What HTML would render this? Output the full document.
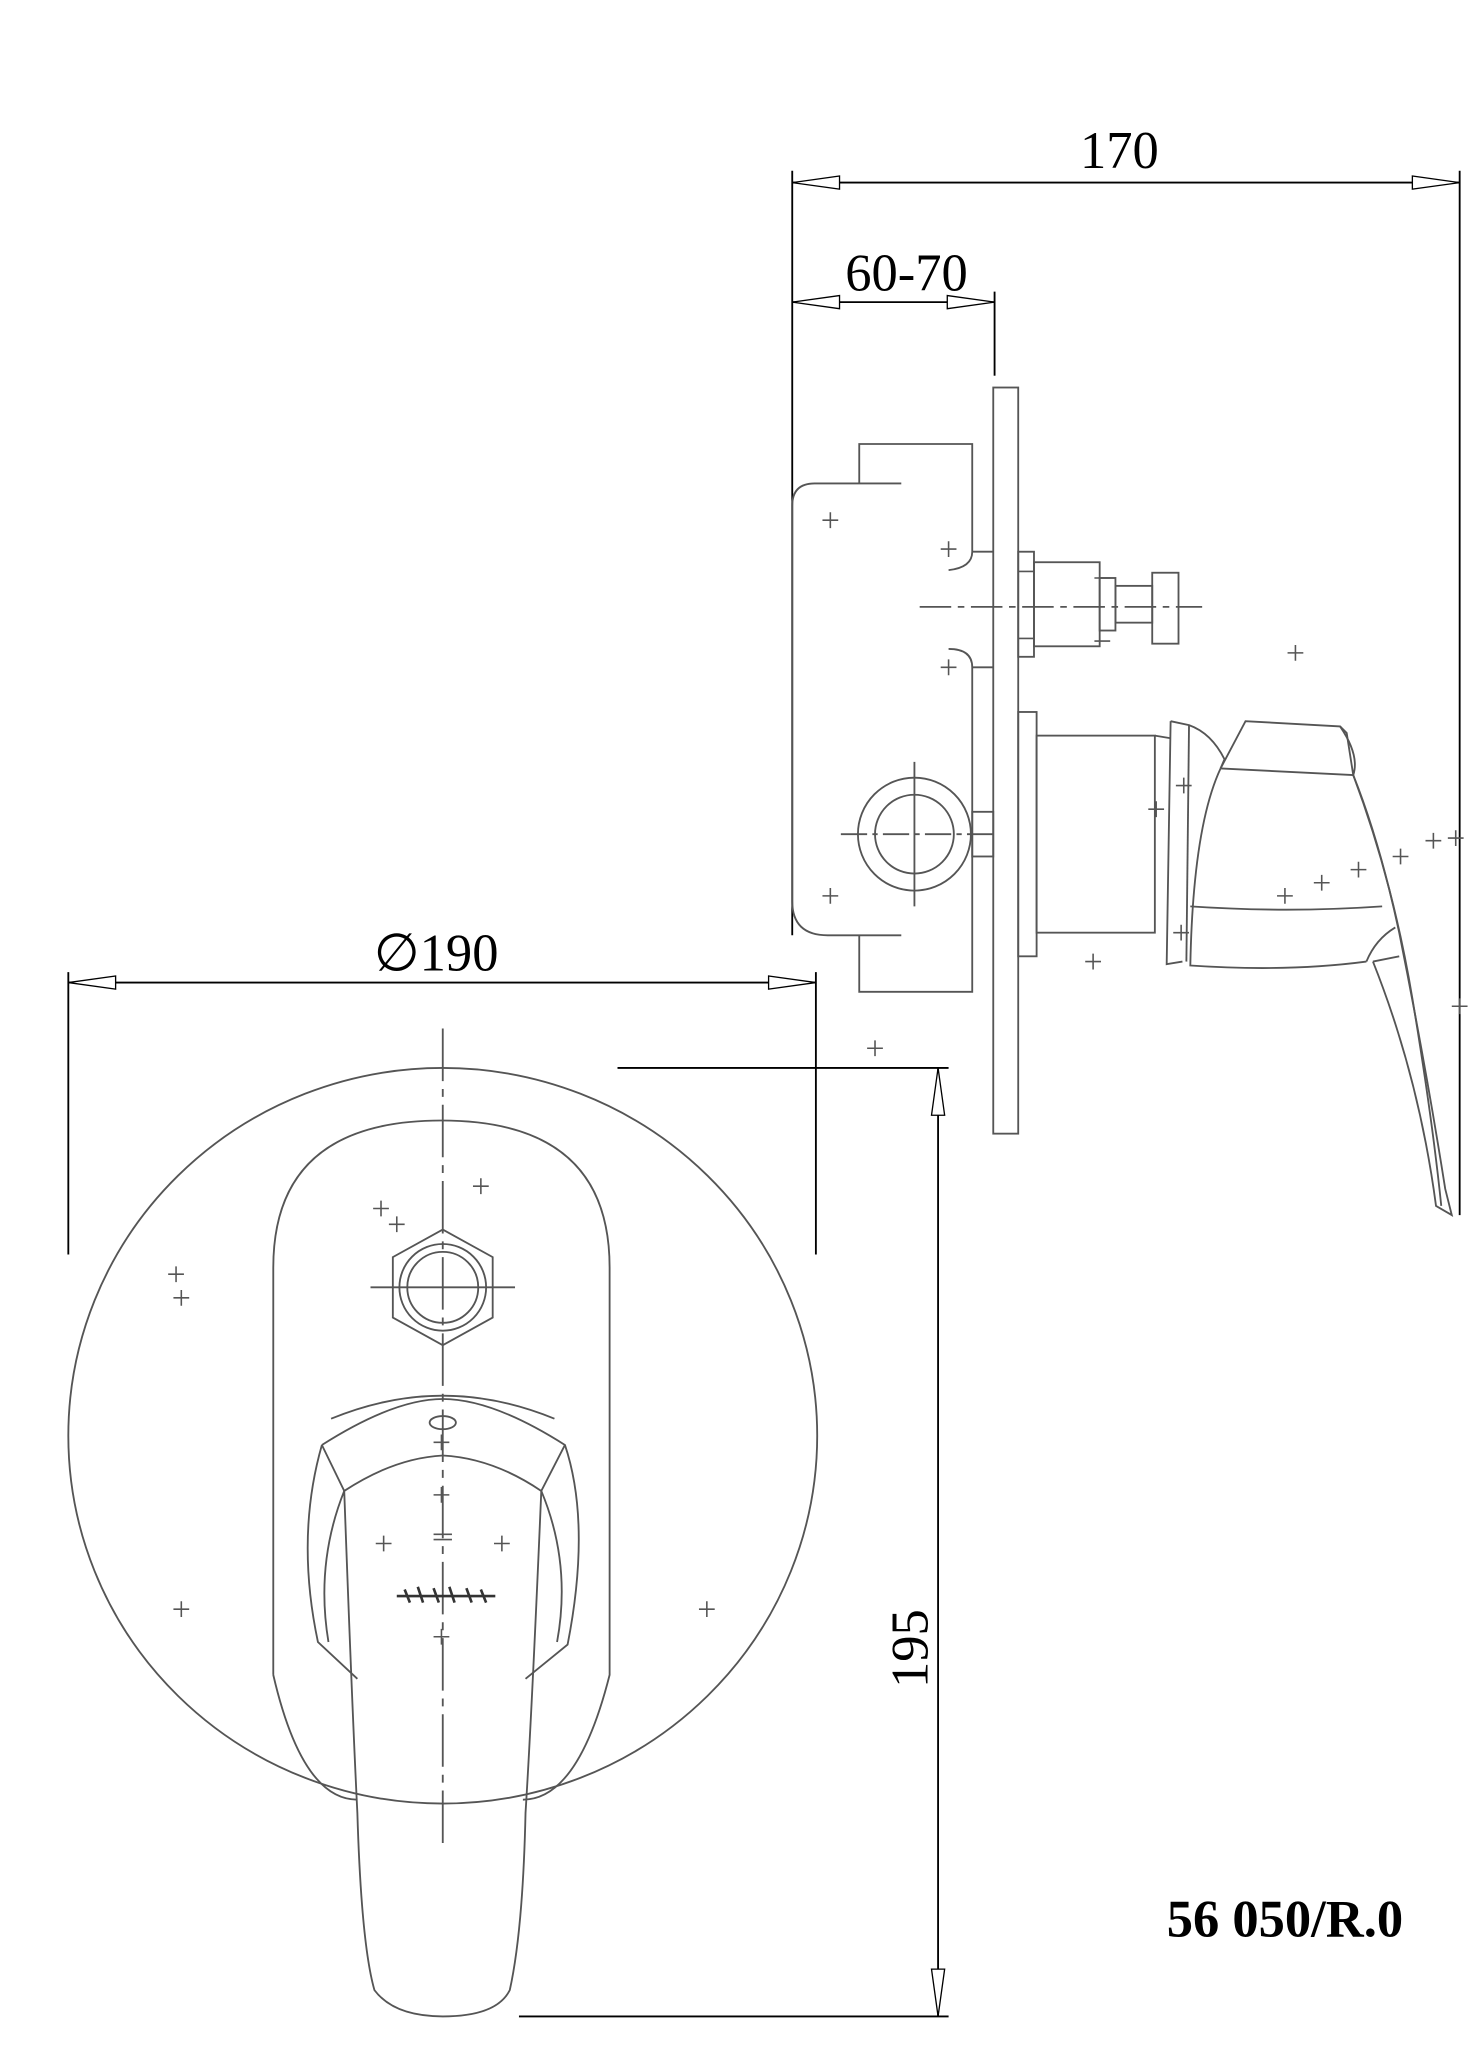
<!DOCTYPE html>
<html><head><style>html,body{margin:0;padding:0;background:#fff}svg{display:block}</style></head>
<body>
<svg width="1482" height="2065" viewBox="0 0 1128 1572" preserveAspectRatio="none" xmlns="http://www.w3.org/2000/svg">
<defs><path id="ar" d="M0,0 L-36,-5 L-36,5 Z" fill="#fff" stroke="#000" stroke-width="1"/></defs>
<g fill="none" stroke="#555" stroke-width="1.4">
<!-- dimension 170 -->
<line x1="603" y1="139" x2="1111" y2="139" stroke="#000"/>
<line x1="603" y1="130" x2="603" y2="712" stroke="#000"/>
<line x1="1111" y1="130" x2="1111" y2="925" stroke="#000"/>
<use href="#ar" transform="translate(1111,139)"/>
<use href="#ar" transform="translate(603,139) rotate(180)"/>
<!-- 60-70 -->
<line x1="603" y1="230" x2="757" y2="230" stroke="#000"/>
<line x1="757" y1="222" x2="757" y2="286" stroke="#000"/>
<use href="#ar" transform="translate(757,230)"/>
<use href="#ar" transform="translate(603,230) rotate(180)"/>
<!-- plate -->
<rect x="756" y="295" width="19" height="568"/>
<!-- box -->
<path d="M686,368 H620 Q603,368 603,385 V686 Q603,712 630,712 H686"/>
<path d="M654,368 V338 H740 V420 Q740,432 722,434"/>
<path d="M654,712 V755 H740 V508 Q740,494 722,494"/>
<line x1="740" y1="420" x2="756" y2="420"/><line x1="740" y1="508" x2="756" y2="508"/>
<circle cx="696" cy="635" r="43"/><circle cx="696" cy="635" r="30"/>
<line x1="640" y1="635" x2="756" y2="635" stroke-dasharray="20,4,4,4"/><line x1="696" y1="580" x2="696" y2="690"/>
<rect x="740" y="618" width="16" height="34"/>
<!-- upper connector -->
<rect x="775" y="420" width="12" height="80"/>
<rect x="787" y="428" width="50" height="64"/>
<rect x="837" y="440" width="12" height="40"/>
<rect x="849" y="446" width="28" height="28"/>
<rect x="877" y="436" width="20" height="54"/>
<line x1="700" y1="462" x2="915" y2="462" stroke-dasharray="24,5,5,5"/>
<!-- body -->
<rect x="775" y="542" width="14" height="186"/>
<rect x="789" y="560" width="90" height="150"/>
<line x1="879" y1="560" x2="891" y2="562"/>
<!-- side handle -->
<path d="M891,549 L905,552 Q922,558 932,578 L929,585"/>
<path d="M891,549 L888,734 L900,732"/>
<line x1="905" y1="552" x2="903" y2="732"/>
<path d="M929,585 Q908,630 906,735 Q980,740 1040,732"/>
<path d="M929,585 L948,549 L1020,553 L1025,558 L1030,590 Q1050,640 1065,710 Q1085,810 1100,905 L1105,925 L1093,918 Q1080,820 1045,732"/>
<path d="M929,585 L1030,590"/>
<path d="M906,690 Q980,695 1052,690"/>
<path d="M1020,553 Q1035,575 1030,590"/>
<path d="M1040,732 Q1047,715 1062,706 M1045,732 L1065,728"/>
<path d="M1030,590 Q1060,670 1075,760 Q1090,850 1097,918"/>
<!-- front: dim 190 -->
<line x1="52" y1="748" x2="621" y2="748" stroke="#000"/>
<line x1="52" y1="740" x2="52" y2="955" stroke="#000"/>
<line x1="621" y1="740" x2="621" y2="955" stroke="#000"/>
<use href="#ar" transform="translate(621,748)"/>
<use href="#ar" transform="translate(52,748) rotate(180)"/>
<!-- dim 195 -->
<line x1="714" y1="813" x2="714" y2="1535" stroke="#000"/>
<line x1="470" y1="813" x2="722" y2="813" stroke="#000"/>
<line x1="395" y1="1535" x2="722" y2="1535" stroke="#000"/>
<use href="#ar" transform="translate(714,813) rotate(-90)"/>
<use href="#ar" transform="translate(714,1535) rotate(90)"/>
<!-- circle -->
<ellipse cx="337" cy="1093" rx="285" ry="280"/>
<path d="M208,1275 V965 Q208,853 336,853 Q464,853 464,965 V1275 Q440,1370 398,1370 M208,1275 Q230,1370 272,1370"/>
<line x1="337" y1="783" x2="337" y2="1405" stroke-dasharray="40,6,6,6"/>
<!-- hex -->
<polygon points="337,936 375,957 375,1003 337,1024 299,1003 299,957"/>
<circle cx="337" cy="980" r="33"/><circle cx="337" cy="980" r="27"/>
<line x1="282" y1="980" x2="392" y2="980"/>
<!-- front handle -->
<path d="M245,1100 Q300,1065 337,1065 Q375,1065 430,1100 L430,1100 Q450,1160 432,1252 L400,1278"/>
<path d="M245,1100 Q225,1170 242,1250 L272,1278"/>
<path d="M245,1100 L262,1135 Q300,1110 337,1108 Q375,1110 412,1135 L430,1100"/>
<path d="M262,1135 Q240,1190 250,1250 M412,1135 Q435,1190 424,1250"/>
<path d="M262,1135 Q268,1300 272,1380 Q275,1480 285,1515 Q300,1535 337,1535 Q378,1535 388,1515 Q398,1470 400,1380 Q405,1300 412,1135"/>
<ellipse cx="337" cy="1083" rx="10" ry="5"/>
<path d="M252,1080 Q337,1045 422,1080"/>
</g>
<g stroke="#555" stroke-width="1.2" fill="none">
<path d="M626,396h12M632,390v12 M716,418h12M722,412v12 M716,508h12M722,502v12 M626,682h12M632,676v12 M826,732h12M832,726v12 M660,798h12M666,792v12 M980,497h12M986,491v12 M972,682h12M978,676v12 M1000,672h12M1006,666v12 M1028,662h12M1034,656v12 M1060,652h12M1066,646v12 M1085,640h12M1091,634v12 M1102,638h12M1108,632v12 M1105,766h12M1111,760v12 M128,970h12M134,964v12 M132,988h12M138,982v12 M284,920h12M290,914v12 M296,932h12M302,926v12 M360,903h12M366,897v12 M132,1225h12M138,1219v12 M532,1225h12M538,1219v12 M286,1175h12M292,1169v12 M376,1175h12M382,1169v12 M330,1138h12M336,1132v12 M330,1098h12M336,1092v12 M330,1168h14M330,1172h14 M330,1246h12M336,1240v12 M874,616h12M880,610v12 M895,598h12M901,592v12 M893,710h12M899,704v12 M775,435h12M775,486h12 M833,440h12 M833,488h12"/>
<path d="M302,1215 h75 M308,1210 l4,10 M318,1208 l4,12 M330,1209 l4,11 M342,1208 l4,12 M355,1209 l4,11 M366,1210 l4,10" stroke="#333" stroke-width="2"/>
</g>
<g font-family="'Liberation Serif',serif" fill="#000">
<text x="852" y="128" font-size="40" text-anchor="middle">170</text>
<text x="690" y="221" font-size="40" text-anchor="middle">60-70</text>
<text x="332" y="739" font-size="40" text-anchor="middle">∅190</text>
<text transform="translate(706,1255) rotate(-90)" font-size="40" text-anchor="middle">195</text>
<text x="978" y="1474" font-size="40" font-weight="bold" text-anchor="middle">56 050/R.0</text>
</g>
</svg>
</body></html>
